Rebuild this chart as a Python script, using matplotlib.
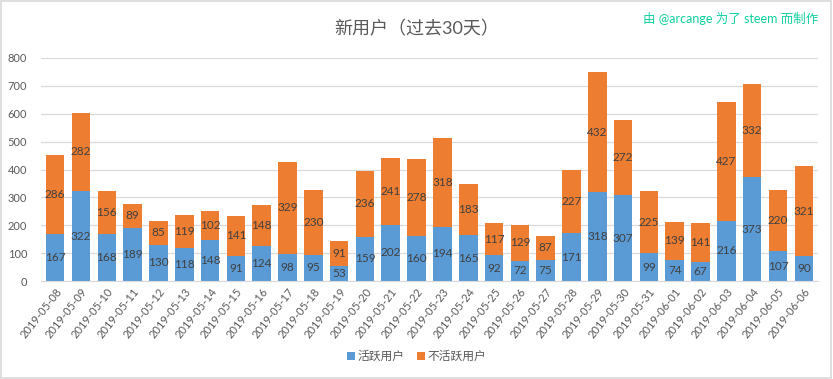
import matplotlib
matplotlib.use("Agg")
from matplotlib import pyplot as plt
import numpy as np

plt.rcParams['font.family'] = ['Lato', 'Noto Sans CJK SC', 'DejaVu Sans']

dates = ['2019-05-08', '2019-05-09', '2019-05-10', '2019-05-11', '2019-05-12', '2019-05-13',
         '2019-05-14', '2019-05-15', '2019-05-16', '2019-05-17', '2019-05-18', '2019-05-19',
         '2019-05-20', '2019-05-21', '2019-05-22', '2019-05-23', '2019-05-24', '2019-05-25',
         '2019-05-26', '2019-05-27', '2019-05-28', '2019-05-29', '2019-05-30', '2019-05-31',
         '2019-06-01', '2019-06-02', '2019-06-03', '2019-06-04', '2019-06-05', '2019-06-06']
active = [167, 322, 168, 189, 130, 118, 148, 91, 124, 98, 95, 53, 159, 202, 160,
          194, 165, 92, 72, 75, 171, 318, 307, 99, 74, 67, 216, 373, 107, 90]
inactive = [286, 282, 156, 89, 85, 119, 102, 141, 148, 329, 230, 91, 236, 241, 278,
            318, 183, 117, 129, 87, 227, 432, 272, 225, 139, 141, 427, 332, 220, 321]

BLUE = '#5B9BD5'
ORANGE = '#ED7D31'
TEXT = '#404040'
TICK = '#595959'

fig = plt.figure(figsize=(8.33, 3.79), dpi=100)
ax = fig.add_axes([41 / 833, 98 / 379, 777 / 833, 223 / 379])

x = np.arange(len(dates))
b1 = ax.bar(x, active, width=0.72, color=BLUE, label='活跃用户', zorder=2)
b2 = ax.bar(x, inactive, width=0.72, bottom=active, color=ORANGE, label='不活跃用户', zorder=2)
ax.bar_label(b1, label_type='center', color=TEXT, fontsize=8.5)
ax.bar_label(b2, label_type='center', color=TEXT, fontsize=8.5)

ax.set_ylim(0, 800)
ax.set_yticks(range(0, 801, 100))
ax.set_xlim(-0.55, len(dates) - 0.45)
ax.set_xticks(x)
ax.set_xticklabels(dates, rotation=52, ha='right', rotation_mode='anchor')
ax.tick_params(axis='both', length=0, colors=TICK, labelsize=8)
ax.tick_params(axis='y', pad=10)
ax.yaxis.grid(True, color='#d9d9d9', linewidth=0.9, zorder=0)
for s in ['top', 'right', 'left']:
    ax.spines[s].set_visible(False)
ax.spines['bottom'].set_color('#d9d9d9')

fig.text(0.5, 0.925, '新用户（过去30天）', ha='center', va='center', fontsize=13, color=TICK)
fig.text(0.982, 0.952, '由 @arcange 为了 steem 而制作', ha='right', va='center', fontsize=9,
         color='#10d0a0')

fig.legend(handles=[b1, b2], loc='center', bbox_to_anchor=(0.5, 0.06), ncol=2, frameon=False,
           fontsize=8.5, handlelength=0.7, handleheight=0.7, handletextpad=0.2, columnspacing=1.0,
           labelcolor=TICK)

fig.patches.append(plt.Rectangle((0.001, 0.002), 0.997, 0.995, transform=fig.transFigure,
                                 fill=False, edgecolor='#d9d9d9', linewidth=1.2))

fig.savefig('out.png', dpi=100)
